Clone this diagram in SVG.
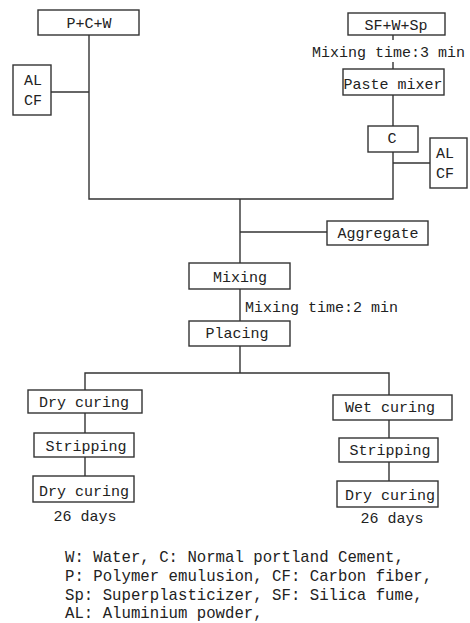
<svg xmlns="http://www.w3.org/2000/svg" width="470" height="623" viewBox="0 0 470 623">
<style>
.b{fill:none;stroke:#333;stroke-width:1.4}
line,polyline{fill:none;stroke:#333;stroke-width:1.4}
text{font-family:"Liberation Mono","DejaVu Sans Mono",monospace;font-size:15px;fill:#222}
.c{text-anchor:middle}
.lg{font-size:15.7px}
</style>
<rect width="470" height="623" style="fill:#fff;stroke:none"/>
<g id="connectors">
<polyline points="89,35 89,199 393,199 393,152"/>
<line x1="51" y1="92" x2="89" y2="92"/>
<line x1="393" y1="35" x2="393" y2="40"/>
<line x1="393" y1="62" x2="393" y2="69"/>
<line x1="393" y1="95" x2="393" y2="126"/>
<line x1="393" y1="163" x2="430" y2="163"/>
<line x1="240" y1="199" x2="240" y2="263"/>
<line x1="240" y1="232" x2="327" y2="232"/>
<line x1="240" y1="289" x2="240" y2="321"/>
<line x1="240" y1="346" x2="240" y2="373"/>
<polyline points="85,390 85,373 389,373 389,395"/>
<line x1="85" y1="413" x2="85" y2="433"/>
<line x1="85" y1="457" x2="85" y2="476"/>
<line x1="389" y1="420" x2="389" y2="438"/>
<line x1="389" y1="462" x2="389" y2="481"/>
</g>
<g id="pcw"><rect class="b" x="38" y="10" width="101" height="25"/><text class="c" x="89" y="28">P+C+W</text></g>
<g id="alcf1"><rect class="b" x="13" y="65" width="38" height="50"/><text x="24" y="85">AL</text><text x="24" y="105">CF</text></g>
<g id="sfwsp"><rect class="b" x="348" y="13" width="97" height="22"/><text class="c" x="396" y="30">SF+W+Sp</text></g>
<g id="mt3"><text x="312" y="57">Mixing time:3 min</text></g>
<g id="paste"><rect class="b" x="343" y="69" width="101" height="26"/><text class="c" x="393" y="89">Paste mixer</text></g>
<g id="c"><rect class="b" x="368" y="126" width="50" height="26"/><text class="c" x="392" y="143">C</text></g>
<g id="alcf2"><rect class="b" x="430" y="138" width="37" height="50"/><text x="436" y="158">AL</text><text x="436" y="178">CF</text></g>
<g id="aggregate"><rect class="b" x="327" y="221" width="101" height="24"/><text class="c" x="378" y="238">Aggregate</text></g>
<g id="mixing"><rect class="b" x="189" y="263" width="101" height="26"/><text class="c" x="240" y="282">Mixing</text></g>
<g id="mt2"><text x="245" y="312">Mixing time:2 min</text></g>
<g id="placing"><rect class="b" x="189" y="321" width="101" height="25"/><text class="c" x="237" y="338">Placing</text></g>
<g id="dry1"><rect class="b" x="28" y="390" width="114" height="23"/><text class="c" x="84" y="407">Dry curing</text></g>
<g id="strip1"><rect class="b" x="34" y="433" width="100" height="24"/><text class="c" x="86" y="451">Stripping</text></g>
<g id="dry2"><rect class="b" x="33" y="476" width="101" height="26"/><text class="c" x="84" y="496">Dry curing</text><text class="c" x="85" y="521">26 days</text></g>
<g id="wet"><rect class="b" x="333" y="395" width="119" height="25"/><text class="c" x="390" y="412">Wet curing</text></g>
<g id="strip2"><rect class="b" x="339" y="438" width="99" height="24"/><text class="c" x="390" y="455">Stripping</text></g>
<g id="dry3"><rect class="b" x="337" y="481" width="101" height="26"/><text class="c" x="390" y="500">Dry curing</text><text class="c" x="392" y="523">26 days</text></g>
<g id="legend">
<text class="lg" x="65" y="562">W: Water, C: Normal portland Cement,</text>
<text class="lg" x="65" y="581">P: Polymer emulusion, CF: Carbon fiber,</text>
<text class="lg" x="65" y="600">Sp: Superplasticizer, SF: Silica fume,</text>
<text class="lg" x="65" y="618">AL: Aluminium powder,</text>
</g>
</svg>
